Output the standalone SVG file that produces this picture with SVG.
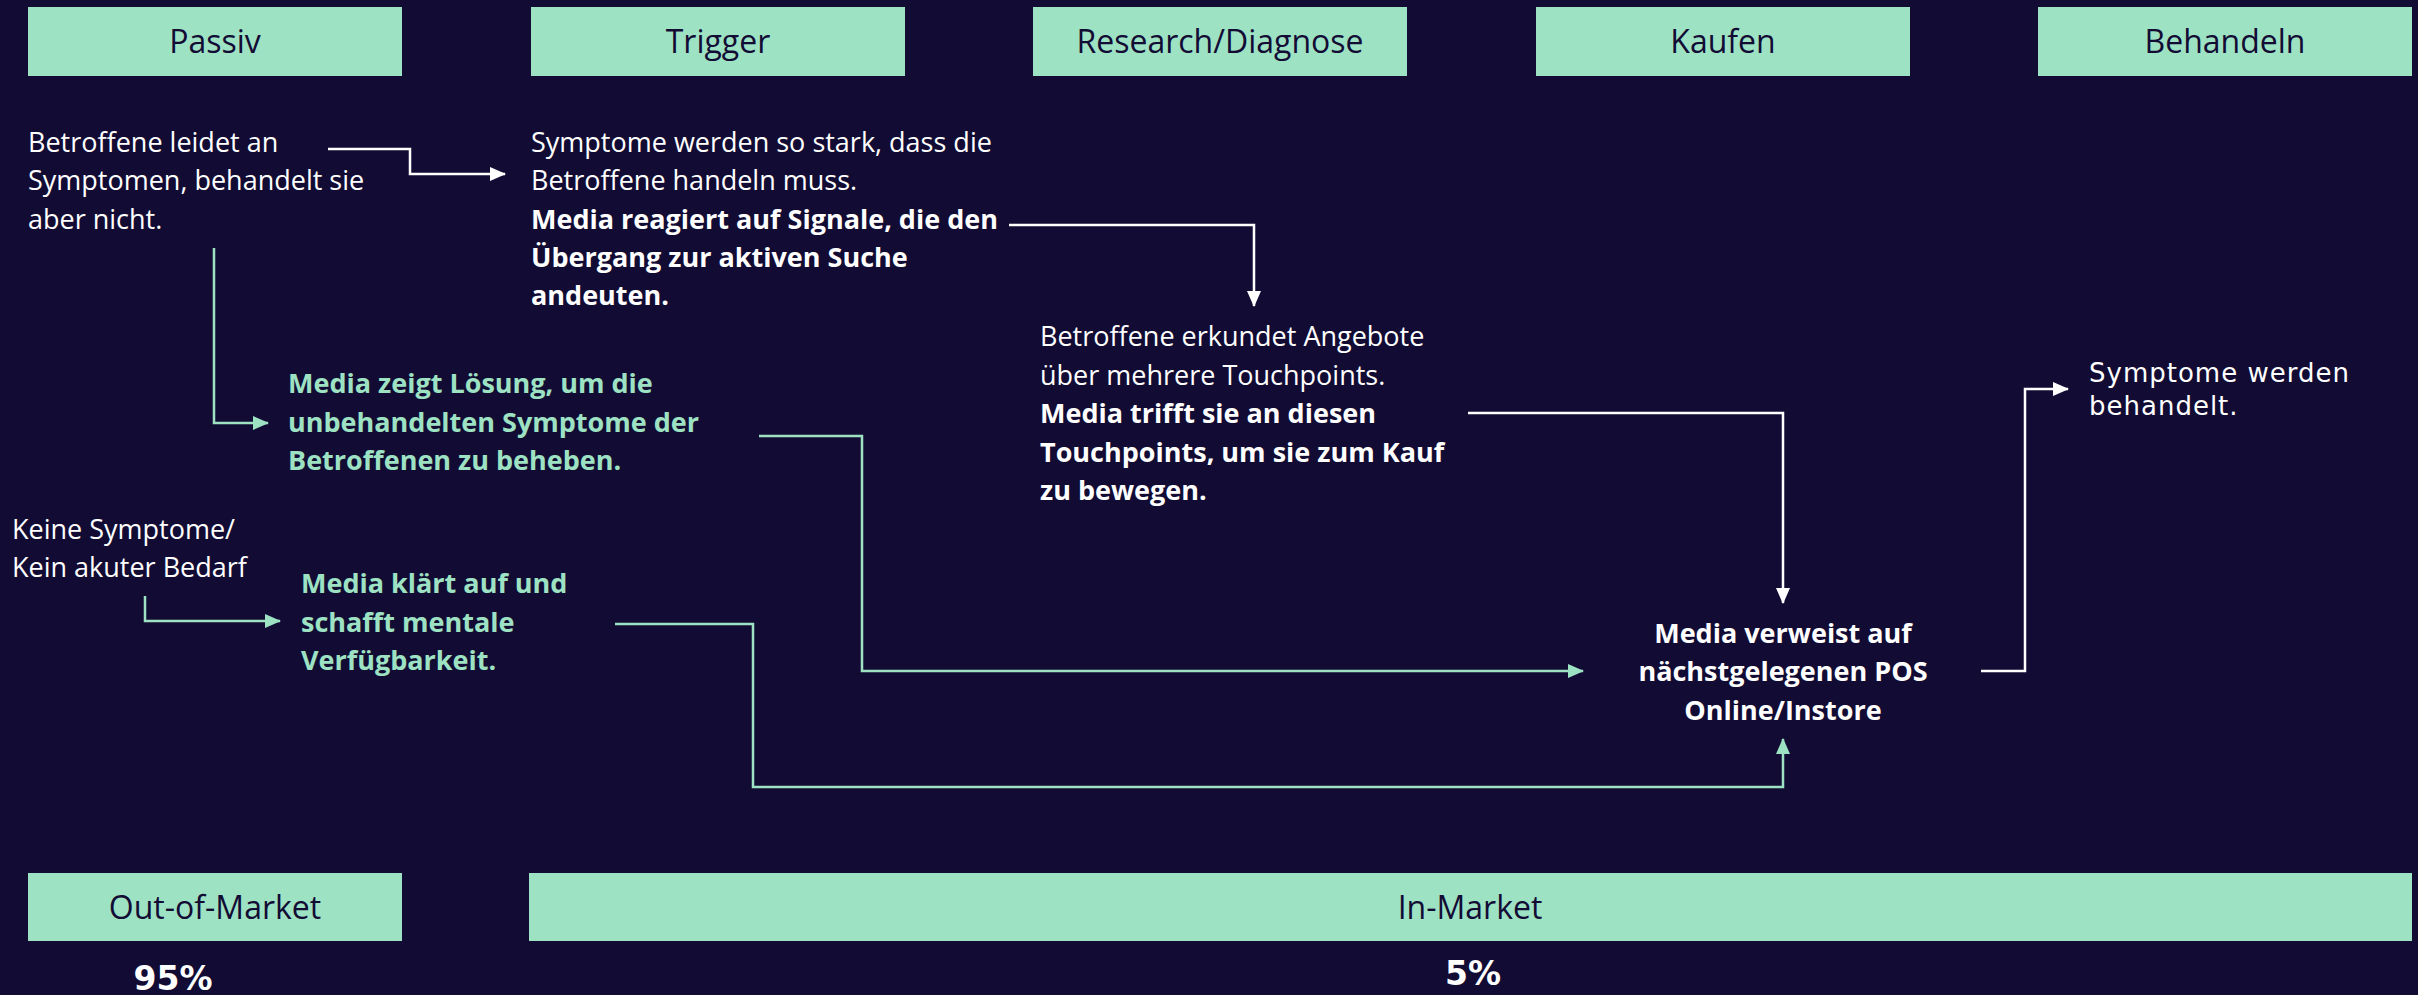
<svg xmlns="http://www.w3.org/2000/svg" width="2418" height="995" viewBox="0 0 2418 995">
<defs>
<style>
.bg{fill:#120c34}
.box{fill:#9ee2c4}
.hd{font-family:"Open Sans","Liberation Sans",sans-serif;font-size:32px;fill:#120c34;text-anchor:middle}
.t{font-family:"Open Sans","Liberation Sans",sans-serif;font-size:27px;fill:#ffffff}
.b{font-weight:bold}
.g{fill:#9ee2c4}
.lt{font-family:"DejaVu Sans","Open Sans",sans-serif;font-size:26px;fill:#ffffff;letter-spacing:1px}
.pc{font-family:"DejaVu Sans","Liberation Sans",sans-serif;font-size:33px;font-weight:bold;fill:#ffffff;text-anchor:middle}
.cw{fill:none;stroke:#ffffff;stroke-width:2.5}
.cg{fill:none;stroke:#9ee2c4;stroke-width:2.5}
</style>
<marker id="aw" markerUnits="userSpaceOnUse" markerWidth="16" markerHeight="14" refX="15" refY="7" orient="auto"><path d="M0,0 L16,7 L0,14 z" fill="#ffffff"/></marker>
<marker id="ag" markerUnits="userSpaceOnUse" markerWidth="16" markerHeight="14" refX="15" refY="7" orient="auto"><path d="M0,0 L16,7 L0,14 z" fill="#9ee2c4"/></marker>
</defs>
<rect class="bg" x="0" y="0" width="2418" height="995"/>

<g id="hd-passiv"><rect class="box" x="28" y="7" width="374" height="69"/><text class="hd" x="215" y="53">Passiv</text></g>
<g id="hd-trigger"><rect class="box" x="531" y="7" width="374" height="69"/><text class="hd" x="718" y="53">Trigger</text></g>
<g id="hd-research"><rect class="box" x="1033" y="7" width="374" height="69"/><text class="hd" x="1220" y="53">Research/Diagnose</text></g>
<g id="hd-kaufen"><rect class="box" x="1536" y="7" width="374" height="69"/><text class="hd" x="1723" y="53">Kaufen</text></g>
<g id="hd-behandeln"><rect class="box" x="2038" y="7" width="374" height="69"/><text class="hd" x="2225" y="53">Behandeln</text></g>

<g id="n-passiv">
<text class="t" x="28" y="152">Betroffene leidet an</text>
<text class="t" x="28" y="190">Symptomen, behandelt sie</text>
<text class="t" x="28" y="229">aber nicht.</text>
</g>
<g id="n-trigger">
<text class="t" x="531" y="152">Symptome werden so stark, dass die</text>
<text class="t" x="531" y="190">Betroffene handeln muss.</text>
<text class="t b" x="531" y="229">Media reagiert auf Signale, die den</text>
<text class="t b" x="531" y="267">Übergang zur aktiven Suche</text>
<text class="t b" x="531" y="305">andeuten.</text>
</g>
<g id="n-research">
<text class="t" x="1040" y="346">Betroffene erkundet Angebote</text>
<text class="t" x="1040" y="385">über mehrere Touchpoints.</text>
<text class="t b" x="1040" y="423">Media trifft sie an diesen</text>
<text class="t b" x="1040" y="462">Touchpoints, um sie zum Kauf</text>
<text class="t b" x="1040" y="500">zu bewegen.</text>
</g>
<g id="n-loesung">
<text class="t b g" x="288" y="393">Media zeigt Lösung, um die</text>
<text class="t b g" x="288" y="432">unbehandelten Symptome der</text>
<text class="t b g" x="288" y="470">Betroffenen zu beheben.</text>
</g>
<g id="n-keine">
<text class="t" x="12" y="539">Keine Symptome/</text>
<text class="t" x="12" y="577">Kein akuter Bedarf</text>
</g>
<g id="n-klaert">
<text class="t b g" x="301" y="593">Media klärt auf und</text>
<text class="t b g" x="301" y="632">schafft mentale</text>
<text class="t b g" x="301" y="670">Verfügbarkeit.</text>
</g>
<g id="n-pos">
<text class="t b" x="1783" y="643" text-anchor="middle">Media verweist auf</text>
<text class="t b" x="1783" y="681" text-anchor="middle">nächstgelegenen POS</text>
<text class="t b" x="1783" y="720" text-anchor="middle">Online/Instore</text>
</g>
<g id="n-behandelt">
<text class="lt" x="2089" y="382">Symptome werden</text>
<text class="lt" x="2089" y="415">behandelt.</text>
</g>

<g id="connectors">
<path class="cw" d="M328,149 H410 V174 H505" marker-end="url(#aw)"/>
<path class="cw" d="M1009,225 H1254 V306" marker-end="url(#aw)"/>
<path class="cw" d="M1468,413 H1783 V603" marker-end="url(#aw)"/>
<path class="cw" d="M1981,671 H2025 V389 H2068" marker-end="url(#aw)"/>
<path class="cg" d="M214,248 V423 H268" marker-end="url(#ag)"/>
<path class="cg" d="M759,436 H862 V671 H1583" marker-end="url(#ag)"/>
<path class="cg" d="M615,624 H753 V787 H1783 V739" marker-end="url(#ag)"/>
<path class="cg" d="M145,596 V621 H280" marker-end="url(#ag)"/>
</g>

<g id="ft-out"><rect class="box" x="28" y="873" width="374" height="68"/><text class="hd" x="215" y="919">Out-of-Market</text></g>
<g id="ft-in"><rect class="box" x="529" y="873" width="1883" height="68"/><text class="hd" x="1470" y="919">In-Market</text></g>
<g id="pct-out"><text class="pc" x="173" y="990">95%</text></g>
<g id="pct-in"><text class="pc" x="1473" y="985">5%</text></g>
</svg>
